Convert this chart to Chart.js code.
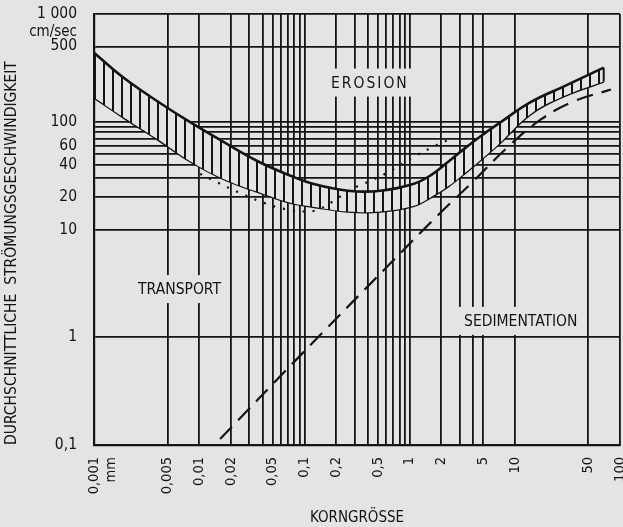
<!DOCTYPE html>
<html>
<head>
<meta charset="utf-8">
<script src="https://cdn.jsdelivr.net/npm/chart.js@4/dist/chart.umd.min.js"></script>
<style>
  html, body { margin: 0; padding: 0; background: #e4e4e2; }
</style>
</head>
<body>
<canvas id="hjulstroem" width="623" height="527"></canvas>
<script>
// grain size in mm, flow velocity in cm/sec
const bandX = [0.001, 0.0019, 0.004, 0.0082, 0.017, 0.036, 0.074, 0.12, 0.26, 0.53, 1.1, 1.6, 2.3, 3.3, 4.7, 6.9, 14, 29, 70];
const bandUpper = [437, 257, 155, 99, 65, 43, 31.5, 26.6, 22.9, 22.9, 26.6, 32, 42, 56, 73, 95, 151, 212, 318];
const bandLower = [168, 110, 69, 43, 29.5, 22.4, 17.7, 16.3, 14.7, 14.7, 16.6, 20, 25, 33, 44, 61, 117, 172, 236];

const dottedX = [0.0102, 0.0152, 0.023, 0.041, 0.063, 0.098, 0.127, 0.185, 0.274, 0.425, 0.66, 1.09, 1.58, 2.3];
const dottedY = [32.8, 27.1, 22.4, 17.7, 15.6, 14.7, 15, 18.1, 23.4, 28.3, 35, 47, 57, 67.5];

const dashedX = [0.0158, 0.082, 0.617, 1.85, 4.07, 8.57, 17.7, 36.5, 82];
const dashedY = [0.1135, 0.607, 4.56, 13.5, 28.3, 58.2, 105, 155, 199];

const xGridValues = [0.001, 0.005, 0.01, 0.02, 0.03, 0.04, 0.05, 0.06, 0.07, 0.08, 0.09, 0.1, 0.2, 0.3, 0.4, 0.5, 0.6, 0.7, 0.8, 0.9, 1, 2, 3, 4, 5, 10, 50, 100];
const xLabelValues = [0.001, 0.005, 0.01, 0.02, 0.05, 0.1, 0.2, 0.5, 1, 2, 5, 10, 50, 100];
const xLabelText = [["0,001", "mm"], "0,005", "0,01", "0,02", "0,05", "0,1", "0,2", "0,5", "1", "2", "5", "10", "50", "100"];

const yGridValues = [0.1, 1, 10, 20, 30, 40, 50, 60, 70, 80, 90, 100, 500, 1000];
const yLabelValues = [0.1, 1, 10, 20, 40, 60, 100, 500, 1000];
const yLabelText = ["0,1", "1", "10", "20", "40", "60", "100", "500", "1 000"];

const INK = "#141414";
const BG = "#e4e4e2";
const FONT = "'DejaVu Sans Condensed', 'DejaVu Sans', sans-serif";

const zoneLabels = [
  { text: "EROSION", x: 0.41, y: 231, spacing: 2 },
  { text: "TRANSPORT", x: 0.0065, y: 2.8, spacing: 0 },
  { text: "SEDIMENTATION", x: 11.4, y: 1.42, spacing: 0 }
];

const pts = (xs, ys) => xs.map((x, i) => ({ x: x, y: ys[i] }));

function labelFor(v, values, texts) {
  const i = values.findIndex(t => Math.abs(Math.log10(t) - Math.log10(v)) < 1e-6);
  return i < 0 ? "" : texts[i];
}

const canvas = document.getElementById("hjulstroem");
const ctx = canvas.getContext("2d");

// vertical hatching inside the erosion band
const tile = document.createElement("canvas");
tile.width = 9;
tile.height = 9;
const tg = tile.getContext("2d");
tg.fillStyle = BG;
tg.fillRect(0, 0, 9, 9);
tg.fillStyle = INK;
tg.fillRect(4, 0, 2, 9);
const hatch = ctx.createPattern(tile, "repeat");

const last = bandX.length - 1;

const paperPlugin = {
  id: "paper",
  beforeDraw(chart) {
    const c = chart.ctx;
    c.save();
    c.fillStyle = BG;
    c.fillRect(0, 0, chart.width, chart.height);
    c.restore();
  }
};

const zonePlugin = {
  id: "zones",
  beforeDatasetsDraw(chart) {
    const c = chart.ctx;
    const sx = chart.scales.x, sy = chart.scales.y;
    c.save();
    c.font = "15.5px " + FONT;
    c.textAlign = "center";
    c.textBaseline = "middle";
    zoneLabels.forEach(z => {
      c.letterSpacing = z.spacing + "px";
      const px = sx.getPixelForValue(z.x);
      const py = sy.getPixelForValue(z.y);
      const w = c.measureText(z.text).width;
      c.fillStyle = BG;
      c.fillRect(px - w / 2 - 8, py - 14, w + 16, 28);
      c.fillStyle = INK;
      c.fillText(z.text, px + z.spacing / 2, py + 1);
    });
    c.restore();
  },
  afterDraw(chart) {
    const c = chart.ctx;
    const sy = chart.scales.y;
    c.save();
    c.font = "15px " + FONT;
    c.fillStyle = INK;
    c.textAlign = "right";
    c.textBaseline = "middle";
    c.fillText("cm/sec", chart.chartArea.left - 17, sy.getPixelForValue(1000) + 18);
    c.restore();
  }
};

new Chart(canvas, {
  type: "line",
  data: {
    datasets: [
      {
        data: pts(bandX, bandUpper),
        borderColor: INK,
        borderWidth: 2.6,
        backgroundColor: hatch,
        fill: "+1",
        tension: 0.4,
        pointRadius: 0,
        order: 3
      },
      {
        data: pts(bandX, bandLower),
        borderColor: INK,
        borderWidth: 2.6,
        fill: false,
        tension: 0.4,
        pointRadius: 0,
        order: 3
      },
      {
        data: [{ x: bandX[last], y: bandLower[last] }, { x: bandX[last], y: bandUpper[last] }],
        borderColor: INK,
        borderWidth: 2,
        fill: false,
        pointRadius: 0,
        order: 2
      },
      {
        data: pts(dottedX, dottedY),
        borderColor: INK,
        borderWidth: 2.2,
        borderDash: [2, 8],
        fill: false,
        tension: 0.4,
        pointRadius: 0,
        order: 1
      },
      {
        data: pts(dashedX, dashedY),
        borderColor: INK,
        borderWidth: 2.2,
        borderDash: [17, 9],
        fill: false,
        tension: 0.4,
        pointRadius: 0,
        order: 1
      }
    ]
  },
  options: {
    responsive: false,
    animation: false,
    layout: { padding: { top: 14, right: 3, left: 0, bottom: 0 } },
    plugins: {
      legend: { display: false },
      tooltip: { enabled: false }
    },
    scales: {
      x: {
        type: "logarithmic",
        min: 0.001,
        max: 100,
        afterBuildTicks: s => { s.ticks = xGridValues.map(v => ({ value: v })); },
        afterFit: s => { s.height = 82; s.paddingLeft = 0; s.paddingRight = 0; },
        ticks: {
          autoSkip: false,
          minRotation: 90,
          maxRotation: 90,
          padding: 12,
          color: INK,
          font: { family: FONT, size: 14.5 },
          callback: v => labelFor(v, xLabelValues, xLabelText)
        },
        grid: { color: INK, lineWidth: 1.8, drawTicks: false },
        border: { color: INK, width: 2.2 },
        title: {
          display: true,
          text: "KORNGRÖSSE",
          color: INK,
          font: { family: FONT, size: 15 },
          padding: { top: 0, bottom: 0 }
        }
      },
      y: {
        type: "logarithmic",
        min: 0.1,
        max: 1000,
        afterBuildTicks: s => { s.ticks = yGridValues.map(v => ({ value: v })); },
        afterFit: s => { s.width = 94; s.paddingTop = 0; s.paddingBottom = 0; },
        ticks: {
          autoSkip: false,
          padding: 17,
          color: INK,
          font: { family: FONT, size: 15.5 },
          callback: v => labelFor(v, yLabelValues, yLabelText)
        },
        grid: { color: INK, lineWidth: 1.8, drawTicks: false },
        border: { color: INK, width: 2.2 },
        title: {
          display: true,
          text: "DURCHSCHNITTLICHE  STRÖMUNGSGESCHWINDIGKEIT",
          align: "start",
          color: INK,
          font: { family: FONT, size: 15.5 },
          padding: { top: 3, bottom: 0 }
        }
      }
    }
  },
  plugins: [paperPlugin, zonePlugin]
});
</script>
</body>
</html>
